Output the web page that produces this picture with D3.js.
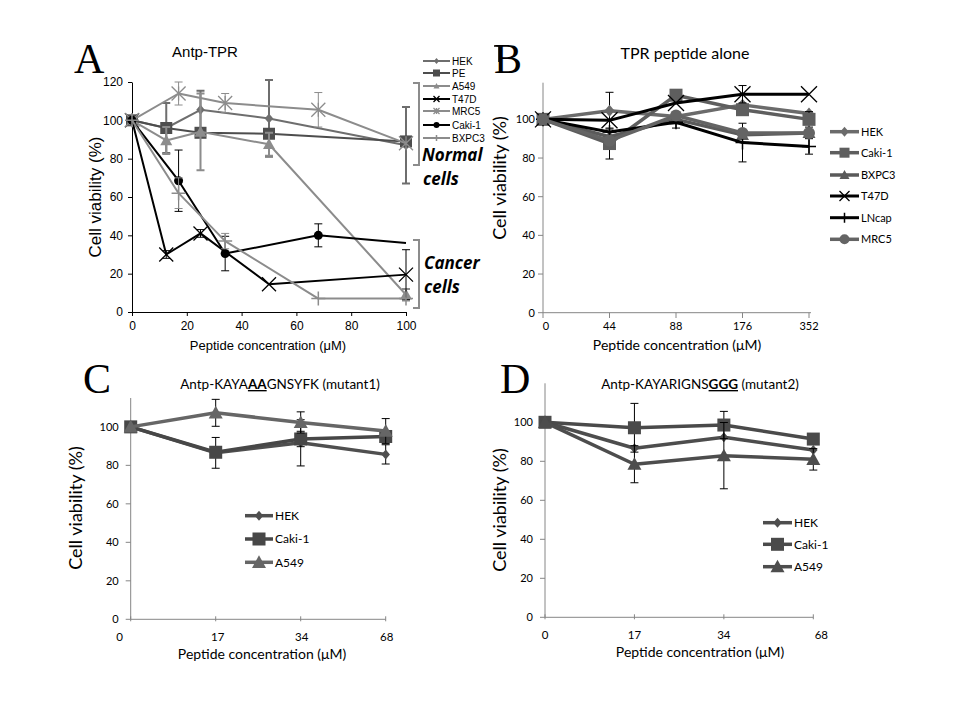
<!DOCTYPE html>
<html><head><meta charset="utf-8">
<script src="https://cdn.jsdelivr.net/npm/d3@7"></script>
<style>body{margin:0;background:#fff} svg{display:block}</style>
</head><body><svg id="c" width="960" height="720"></svg>
<script>
// ---------------- DATA ----------------
// Panel A: Antp-TPR (x in µM)
const aTicksX = [0, 20, 40, 60, 80, 100];
const aTicksY = [0, 20, 40, 60, 80, 100, 120];
const aNames = ["HEK", "PE", "A549", "T47D", "MRC5", "Caki-1", "BXPC3"];
const aHekX = [0, 12.5, 25, 50, 100];   const aHekY = [100, 96, 105.5, 101, 87];   const aHekE = [0, 13, 10, 20, 20];
const aPeX = [0, 12.5, 25, 50, 100];    const aPeY = [100, 96, 93.5, 93, 89];      const aPeE = [0, 0, 0, 0, 0];
const aA549X = [0, 12.5, 25, 50, 100];  const aA549Y = [100, 89.5, 94, 87.5, 9];   const aA549E = [0, 7, 20, 6, 3];
const aT47dX = [0, 12.5, 25, 50, 100];  const aT47dY = [100, 30, 41, 14.5, 19.5];  const aT47dE = [0, 2, 2, 0, 13];
const aMrc5X = [0, 17, 34, 68, 100];    const aMrc5Y = [100, 114, 109, 105.5, 88]; const aMrc5E = [0, 6, 5, 9, 0];
const aCakiX = [0, 17, 34, 68, 100];    const aCakiY = [100, 68.5, 30.5, 40, 36];  const aCakiE = [0, 16, 9, 6, 0];
const aBxpcX = [0, 17, 34, 68, 100];    const aBxpcY = [100, 62, 37, 7, 7];        const aBxpcE = [0, 8, 4, 0, 0];

// Panel B: TPR peptide alone (categorical x)
const bCats = ["0", "44", "88", "176", "352"];
const bTicksY = [0, 20, 40, 60, 80, 100];
const bNames = ["HEK", "Caki-1", "BXPC3", "T47D", "LNcap", "MRC5"];
const bHek   = [100, 104.5, 101.5, 107.5, 103];  const bHekE   = [0, 9.5, 0, 0, 0];
const bCaki  = [100, 87.5, 112.5, 105, 100];     const bCakiE  = [0, 8, 0, 0, 4];
const bBxpc  = [100, 91, 100, 92, 93];           const bBxpcE  = [0, 0, 0, 0, 0];
const bT47d  = [100, 99.5, 108.5, 113, 113];     const bT47dE  = [0, 0, 0, 4.5, 0];
const bLncap = [100, 93.5, 98.5, 88, 86];        const bLncapE = [0, 0, 3, 10, 4];
const bMrc5  = [100, 89, 102, 93, 93];           const bMrc5E  = [0, 0, 0, 0, 0];

// Panels C & D: mutants (categorical x)
const cdCats = ["0", "17", "34", "68"];
const cdTicksY = [0, 20, 40, 60, 80, 100];
const cdNames = ["HEK", "Caki-1", "A549"];
const cHek  = [100, 86.5, 91.7, 85.7];  const cHekE  = [0, 8, 12, 5];
const cCaki = [100, 86.8, 93.7, 95];    const cCakiE = [0, 0, 4, 3];
const cA549 = [100, 107.3, 102.3, 97.8]; const cA549E = [0, 7, 5.5, 6.5];
const dHek  = [100, 86.7, 92.3, 85.8];  const dHekE  = [0, 0, 0, 0];
const dCaki = [100, 97.2, 98.6, 91.4];  const dCakiE = [0, 12.5, 7, 2];
const dA549 = [100, 78.5, 82.9, 81];    const dA549E = [0, 9.5, 17, 5.5];

// ---------------- HELPERS ----------------
const svg = d3.select("#c");
svg.append("rect").attr("width", 960).attr("height", 720).attr("fill", "#fff");

function marker(g, type, cx, cy, r, color) {
  if (type === "diamond") {
    g.append("path").attr("d", `M${cx},${cy - r}L${cx + r * 0.85},${cy}L${cx},${cy + r}L${cx - r * 0.85},${cy}Z`).attr("fill", color);
  } else if (type === "square") {
    g.append("rect").attr("x", cx - r).attr("y", cy - r).attr("width", 2 * r).attr("height", 2 * r).attr("fill", color);
  } else if (type === "triangle") {
    g.append("path").attr("d", `M${cx},${cy - r}L${cx + r},${cy + r * 0.8}L${cx - r},${cy + r * 0.8}Z`).attr("fill", color);
  } else if (type === "circle") {
    g.append("circle").attr("cx", cx).attr("cy", cy).attr("r", r).attr("fill", color);
  } else if (type === "x" || type === "star") {
    g.append("path").attr("d", `M${cx - r},${cy - r}L${cx + r},${cy + r}M${cx - r},${cy + r}L${cx + r},${cy - r}` + (type === "star" ? `M${cx},${cy - r}L${cx},${cy + r}` : ""))
      .attr("stroke", color).attr("stroke-width", 1.3).attr("fill", "none");
  } else if (type === "plus") {
    g.append("path").attr("d", `M${cx - r},${cy}L${cx + r},${cy}M${cx},${cy - r}L${cx},${cy + r}`)
      .attr("stroke", color).attr("stroke-width", 1.5).attr("fill", "none");
  }
}

function series(g, xs, ys, es, x, y, st) {
  const pts = xs.map((v, i) => [x(v), y(ys[i])]);
  es.forEach((e, i) => {
    if (!e) return;
    const px = pts[i][0], y1 = y(ys[i] + e), y2 = y(ys[i] - e);
    const c = st.errColor || st.color;
    g.append("path").attr("d", `M${px},${y1}L${px},${y2}M${px - st.cap},${y1}L${px + st.cap},${y1}M${px - st.cap},${y2}L${px + st.cap},${y2}`)
      .attr("stroke", c).attr("stroke-width", st.errW || 1).attr("fill", "none");
  });
  g.append("path").attr("d", d3.line()(pts)).attr("stroke", st.color).attr("stroke-width", st.lw).attr("fill", "none").attr("stroke-linejoin", "round");
  pts.forEach((p, i) => {
    if (st.skipLast && i === pts.length - 1) return;
    marker(g, st.m, p[0], p[1], st.r, st.color);
  });
}

function legendItem(g, x0, x1, yy, name, st, font, fs, r) {
  g.append("line").attr("x1", x0).attr("x2", x1).attr("y1", yy).attr("y2", yy).attr("stroke", st.color).attr("stroke-width", st.lw);
  marker(g, st.m, (x0 + x1) / 2, yy, r, st.color);
  g.append("text").attr("x", x1 + 2).attr("y", yy).attr("dy", "0.35em").attr("font-family", font).attr("font-size", fs).attr("fill", "#000").text(name);
}

function letter(t, x, y) {
  svg.append("text").attr("x", x).attr("y", y).attr("font-family", "Liberation Serif").attr("font-size", 42).attr("fill", "#000").text(t);
}

// ---------------- PANEL A ----------------
{
  const g = svg.append("g");
  const x = d3.scaleLinear().domain([0, 100]).range([132, 406]);
  const y = d3.scaleLinear().domain([0, 120]).range([312, 82]);
  const fa = "Liberation Sans";
  const ax = g.append("g").attr("transform", "translate(0,312)")
    .call(d3.axisBottom(x).tickValues(aTicksX).tickSize(4).tickSizeOuter(0).tickPadding(5));
  const ay = g.append("g").attr("transform", "translate(132,0)")
    .call(d3.axisLeft(y).tickValues(aTicksY).tickSize(4).tickSizeOuter(0).tickPadding(5));
  [ax, ay].forEach(a => { a.selectAll("text").attr("font-family", fa).attr("font-size", 12).attr("fill", "#000"); a.selectAll("line,path").attr("stroke", "#000"); });
  g.append("text").attr("x", 205).attr("y", 57).attr("text-anchor", "middle").attr("font-family", fa).attr("font-size", 15).text("Antp-TPR");
  g.append("text").attr("transform", "translate(101,197) rotate(-90)").attr("text-anchor", "middle").attr("font-family", fa).attr("font-size", 17).text("Cell viability (%)");
  g.append("text").attr("x", 268).attr("y", 350).attr("text-anchor", "middle").attr("font-family", fa).attr("font-size", 13).text("Peptide concentration (\u03bcM)");

  const st = [
    { color: "#6e6e6e", m: "diamond", r: 5, lw: 2, cap: 4, errW: 2 },
    { color: "#4d4d4d", m: "square", r: 6, lw: 2, cap: 4 },
    { color: "#8c8c8c", m: "triangle", r: 6, lw: 2, cap: 4, errW: 2 },
    { color: "#000000", m: "x", r: 7, lw: 2, cap: 4 },
    { color: "#8c8c8c", m: "star", r: 7, lw: 2, cap: 4 },
    { color: "#000000", m: "circle", r: 4.5, lw: 2, cap: 4, skipLast: true },
    { color: "#8c8c8c", m: "plus", r: 7, lw: 2, cap: 4 }
  ];
  const data = [[aHekX, aHekY, aHekE], [aPeX, aPeY, aPeE], [aA549X, aA549Y, aA549E], [aT47dX, aT47dY, aT47dE],
                [aMrc5X, aMrc5Y, aMrc5E], [aCakiX, aCakiY, aCakiE], [aBxpcX, aBxpcY, aBxpcE]];
  data.forEach((d, i) => series(g, d[0], d[1], d[2], x, y, st[i]));

  const legY = [61, 73, 86, 99, 111, 125, 138];
  aNames.forEach((n, i) => legendItem(g, 423, 450, legY[i], n, { color: st[i].color, m: st[i].m, lw: 2 }, fa, 10, st[i].m === "square" ? 3.5 : 3));

  const br = (x0, x1, y0, y1) => g.append("path").attr("d", `M${x0},${y0}L${x1},${y0}L${x1},${y1}L${x0},${y1}`).attr("stroke", "#8c8c8c").attr("stroke-width", 2).attr("fill", "none");
  br(413, 419, 83, 165);
  br(413, 419, 240, 308);
  g.append("path").attr("d", "M494,46L499,46L499,62").attr("stroke", "#000").attr("stroke-width", 1.5).attr("fill", "none");
  const lab = (t, xx, yy) => g.append("text").attr("x", xx).attr("y", yy).attr("font-family", "Open Sans").attr("font-weight", "bold").attr("font-style", "italic").attr("font-size", 17).text(t);
  lab("Normal", 422, 161); lab("cells", 423, 185);
  lab("Cancer", 424, 269); lab("cells", 424, 293);
  letter("A", 74, 73);
}

// ---------------- PANEL B ----------------
{
  const g = svg.append("g");
  const x = d3.scalePoint().domain(bCats).range([543, 809]);
  const y = d3.scaleLinear().domain([0, 120]).range([312.7, 80.7]);
  const ff = "Lato";
  g.append("line").attr("x1", 543).attr("x2", 811).attr("y1", 312.7).attr("y2", 312.7).attr("stroke", "#868686");
  g.append("line").attr("x1", 543).attr("x2", 543).attr("y1", 82.7).attr("y2", 312.7).attr("stroke", "#868686");
  bTicksY.forEach(t => {
    g.append("line").attr("x1", 538).attr("x2", 543).attr("y1", y(t)).attr("y2", y(t)).attr("stroke", "#868686");
    g.append("text").attr("x", 535).attr("y", y(t)).attr("dy", "0.35em").attr("text-anchor", "end").attr("font-family", ff).attr("font-size", 11).text(t);
  });
  bCats.forEach(c => {
    g.append("line").attr("x1", x(c)).attr("x2", x(c)).attr("y1", 312.7).attr("y2", 318).attr("stroke", "#868686");
    g.append("text").attr("x", x(c) + (c === "0" ? 3 : 0)).attr("y", 330).attr("text-anchor", "middle").attr("font-family", ff).attr("font-size", 11).text(c);
  });
  g.append("text").attr("x", 685).attr("y", 59).attr("text-anchor", "middle").attr("font-family", ff).attr("font-size", 16).text("TPR peptide alone");
  g.append("text").attr("transform", "translate(506,178) rotate(-90)").attr("text-anchor", "middle").attr("font-family", ff).attr("font-size", 18).text("Cell viability (%)");
  g.append("text").attr("x", 677).attr("y", 350).attr("text-anchor", "middle").attr("font-family", ff).attr("font-size", 14).text("Peptide concentration (\u03bcM)");

  const st = [
    { color: "#6b6b6b", m: "diamond", r: 6, lw: 3.5, cap: 4, errColor: "#000" },
    { color: "#5e5e5e", m: "square", r: 6.5, lw: 3.5, cap: 4, errColor: "#000" },
    { color: "#5a5a5a", m: "triangle", r: 6.5, lw: 3.5, cap: 4, errColor: "#000" },
    { color: "#000000", m: "x", r: 8, lw: 3, cap: 4 },
    { color: "#000000", m: "plus", r: 7, lw: 3, cap: 4 },
    { color: "#646464", m: "circle", r: 6, lw: 3.5, cap: 4, errColor: "#000" }
  ];
  const data = [[bHek, bHekE], [bCaki, bCakiE], [bBxpc, bBxpcE], [bT47d, bT47dE], [bLncap, bLncapE], [bMrc5, bMrc5E]];
  data.forEach((d, i) => series(g, bCats, d[0], d[1], x, y, st[i]));
  const legY = [131.7, 152.7, 175, 196, 217.7, 239.3];
  bNames.forEach((n, i) => legendItem(g, 830, 859, legY[i], n, st[i], ff, 11, 5));
  letter("B", 494, 73);
}

// ---------------- PANELS C & D ----------------
function mutantPanel(o) {
  const g = svg.append("g");
  const x = d3.scalePoint().domain(cdCats).range([o.x0, o.x1]);
  const y = d3.scaleLinear().domain([0, o.ymax]).range([o.y0, o.yTop]);
  const ff = "Lato";
  g.append("line").attr("x1", o.x0).attr("x2", o.x1).attr("y1", o.y0).attr("y2", o.y0).attr("stroke", "#868686");
  g.append("line").attr("x1", o.x0).attr("x2", o.x0).attr("y1", o.yTop).attr("y2", o.y0).attr("stroke", "#868686");
  cdTicksY.forEach(t => {
    g.append("line").attr("x1", o.x0 - 5).attr("x2", o.x0).attr("y1", y(t)).attr("y2", y(t)).attr("stroke", "#868686");
    g.append("text").attr("x", o.x0 - 12).attr("y", y(t)).attr("dy", "0.35em").attr("text-anchor", "end").attr("font-family", ff).attr("font-size", 11).text(t);
  });
  cdCats.forEach((c, i) => {
    g.append("line").attr("x1", x(c)).attr("x2", x(c)).attr("y1", o.y0 - 3).attr("y2", o.y0 + 2).attr("stroke", "#868686");
    g.append("text").attr("x", x(c) + o.labDx[i]).attr("y", o.y0 + 22).attr("text-anchor", "middle").attr("font-family", ff).attr("font-size", 11.5).text(c);
  });
  const t = g.append("text").attr("x", o.titleX).attr("y", 389).attr("text-anchor", "middle").attr("font-family", ff).attr("font-size", 13.5);
  t.append("tspan").text(o.t1);
  t.append("tspan").attr("font-weight", "bold").attr("text-decoration", "underline").style("text-decoration", "underline").text(o.t2);
  t.append("tspan").text(o.t3);
  g.append("text").attr("transform", `translate(${o.ylabX},${o.ylabY}) rotate(-90)`).attr("text-anchor", "middle").attr("font-family", ff).attr("font-size", 18).text("Cell viability (%)");
  g.append("text").attr("x", o.xlabX).attr("y", o.y0 + 40).attr("text-anchor", "middle").attr("font-family", ff).attr("font-size", 14).text("Peptide concentration (\u03bcM)");
  o.data.forEach((d, i) => series(g, cdCats, d[0], d[1], x, y, o.st[i]));
  cdNames.forEach((n, i) => legendItem(g, o.legX0, o.legX1, o.legY[i], n, o.st[i], ff, 12, o.st[i].r));
  letter(o.letter, o.letterX, 393);
}

mutantPanel({
  x0: 130.7, x1: 385.7, y0: 619.3, yTop: 398, ymax: 115,
  labDx: [-11, 2, 1, 1],
  t1: "Antp-KAYA", t2: "AA", t3: "GNSYFK (mutant1)", titleX: 280,
  ylabX: 82, ylabY: 508, xlabX: 262,
  legX0: 245, legX1: 273, legY: [515.7, 539, 562.3],
  letter: "C", letterX: 83,
  st: [
    { color: "#4f4f4f", m: "diamond", r: 5, lw: 3.5, cap: 4, errColor: "#000" },
    { color: "#474747", m: "square", r: 6.5, lw: 3.5, cap: 4, errColor: "#000" },
    { color: "#666666", m: "triangle", r: 7, lw: 3.5, cap: 4, errColor: "#000" }
  ],
  data: [[cHek, cHekE], [cCaki, cCakiE], [cA549, cA549E]]
});

mutantPanel({
  x0: 545, x1: 813.3, y0: 617.3, yTop: 383.3, ymax: 120,
  labDx: [0, 0, 0, 8],
  t1: "Antp-KAYARIGNS", t2: "GGG", t3: " (mutant2)", titleX: 700,
  ylabX: 506, ylabY: 510, xlabX: 700,
  legX0: 763, legX1: 792, legY: [522.7, 544.3, 566.7],
  letter: "D", letterX: 500,
  st: [
    { color: "#4d4d4d", m: "diamond", r: 5, lw: 3.5, cap: 4, errColor: "#000" },
    { color: "#4a4a4a", m: "square", r: 6.5, lw: 3.5, cap: 4, errColor: "#000" },
    { color: "#4d4d4d", m: "triangle", r: 7, lw: 3.5, cap: 4, errColor: "#000" }
  ],
  data: [[dHek, dHekE], [dCaki, dCakiE], [dA549, dA549E]]
});
</script></body></html>
